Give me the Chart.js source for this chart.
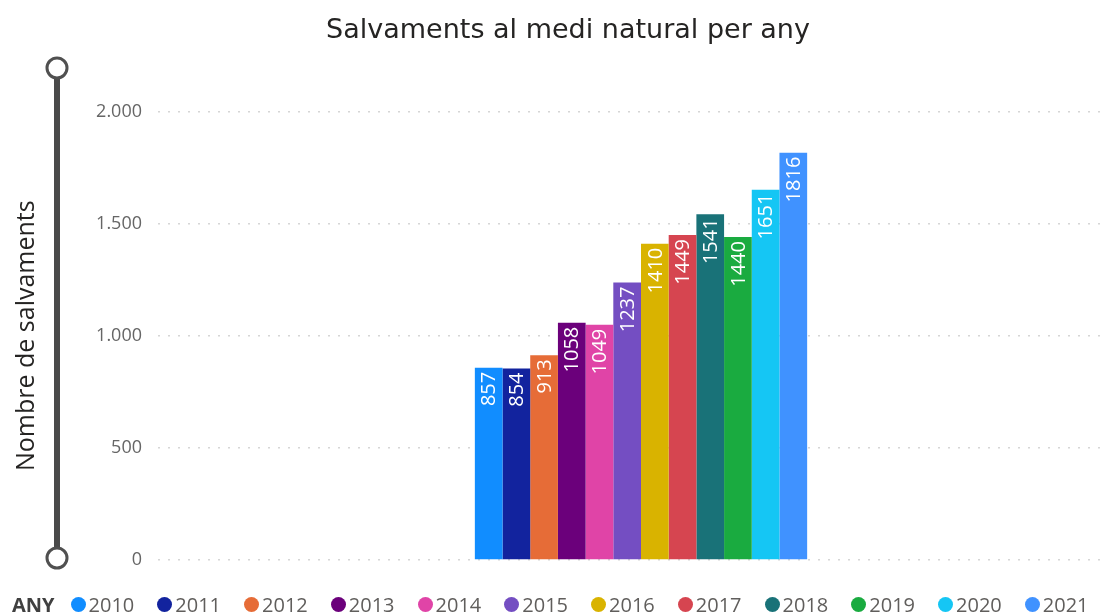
<!DOCTYPE html>
<html>
<head>
<meta charset="utf-8">
<script src="https://cdn.jsdelivr.net/npm/chart.js@4.4.1/dist/chart.umd.min.js"></script>
<style>
  html, body { margin: 0; padding: 0; background: #fff; }
  #wrap { position: relative; width: 1108px; height: 614px; overflow: hidden; }
  #legend {
    position: absolute; left: 12px; top: 591px; height: 26px;
    display: flex; align-items: center;
    font-family: "Open Sans", sans-serif; font-size: 20px; color: #605E5C;
  }
  #legend .ttl { font-weight: bold; color: #404040; margin-right: 16px; }
  #legend .item { display: flex; align-items: center; margin-right: 23px; }
  #legend .dot { width: 15px; height: 15px; border-radius: 50%; margin-right: 3px; }
</style>
</head>
<body>
<div id="wrap">
  <canvas id="myChart" width="1124" height="614"></canvas>
  <div id="legend"></div>
</div>
<script>
// Salvaments per any
const years = ["2010", "2011", "2012", "2013", "2014", "2015", "2016", "2017", "2018", "2019", "2020", "2021"];
const rescues = [857, 854, 913, 1058, 1049, 1237, 1410, 1449, 1541, 1440, 1651, 1816];
const colors = ["#118DFF", "#12239E", "#E66C37", "#6B007B", "#E044A7", "#744EC2",
                "#D9B300", "#D64550", "#197278", "#1AAB40", "#15C6F4", "#4092FF"];
const yTicks = [0, 500, 1000, 1500, 2000];

const fmt = (v) => v.toString().replace(/\B(?=(\d{3})+(?!\d))/g, ".");

// white vertical labels at the top of each bar
const barLabels = {
  id: "barLabels",
  afterDatasetsDraw(chart) {
    const c = chart.ctx;
    c.save();
    c.fillStyle = "#fff";
    c.font = "20px 'Open Sans', sans-serif";
    c.textAlign = "right";
    c.textBaseline = "middle";
    chart.data.datasets.forEach((ds, i) => {
      chart.getDatasetMeta(i).data.forEach((bar, j) => {
        c.save();
        c.translate(bar.x + 1, bar.y + 4);
        c.rotate(-Math.PI / 2);
        c.fillText(String(ds.data[j]), 0, 0);
        c.restore();
      });
    });
    c.restore();
  },
};

// zoom slider on the left, like the original report
const slider = {
  id: "slider",
  afterDraw(chart) {
    const c = chart.ctx;
    const x = 57, top = 68, bottom = 558;
    c.save();
    c.strokeStyle = "#4a4a4a";
    c.lineWidth = 6;
    c.beginPath();
    c.moveTo(x, top);
    c.lineTo(x, bottom);
    c.stroke();
    c.lineWidth = 3;
    c.strokeStyle = "#505050";
    c.fillStyle = "#fff";
    [top, bottom].forEach((y) => {
      c.beginPath();
      c.arc(x, y, 10, 0, Math.PI * 2);
      c.fill();
      c.stroke();
    });
    c.restore();
  },
};

const ctx = document.getElementById("myChart");
const chart = new Chart(ctx, {
  type: "bar",
  data: {
    labels: ["Salvaments"],
    datasets: years.map((y, i) => ({
      label: y,
      data: [rescues[i]],
      backgroundColor: colors[i],
      categoryPercentage: 0.344,
      barPercentage: 1,
    })),
  },
  options: {
    responsive: false,
    animation: false,
    layout: { padding: { left: 12, right: 0, top: 0, bottom: 54 } },
    plugins: {
      legend: { display: false },
      tooltip: { enabled: false },
      title: {
        display: true,
        text: "Salvaments al medi natural per any",
        color: "#252423",
        font: { family: "'DejaVu Sans', sans-serif", size: 27, weight: "normal" },
        padding: { top: 15, bottom: 64 },
      },
    },
    scales: {
      x: { display: false },
      y: {
        min: 0,
        max: 2000,
        afterBuildTicks: (s) => { s.ticks = yTicks.map((v) => ({ value: v })); },
        border: { display: false, dash: [2, 8] },
        grid: {
          color: "#d6d6d6",
          lineWidth: 1.5,
          drawTicks: false,
        },
        ticks: {
          color: "#666",
          padding: 16,
          font: { family: "'Open Sans', sans-serif", size: 18 },
          callback: (v) => fmt(v),
        },
        title: {
          display: true,
          text: "Nombre de salvaments",
          color: "#252423",
          font: { family: "'Open Sans', sans-serif", size: 25 },
          padding: { top: 0, bottom: 50 },
        },
        afterFit: (s) => { s.width = 146; },
      },
    },
  },
  plugins: [barLabels, slider],
});

// HTML legend built from the datasets
const legend = document.getElementById("legend");
legend.innerHTML = '<span class="ttl">ANY</span>' + chart.data.datasets
  .map((ds) => `<span class="item"><span class="dot" style="background:${ds.backgroundColor}"></span>${ds.label}</span>`)
  .join("");
</script>
</body>
</html>
